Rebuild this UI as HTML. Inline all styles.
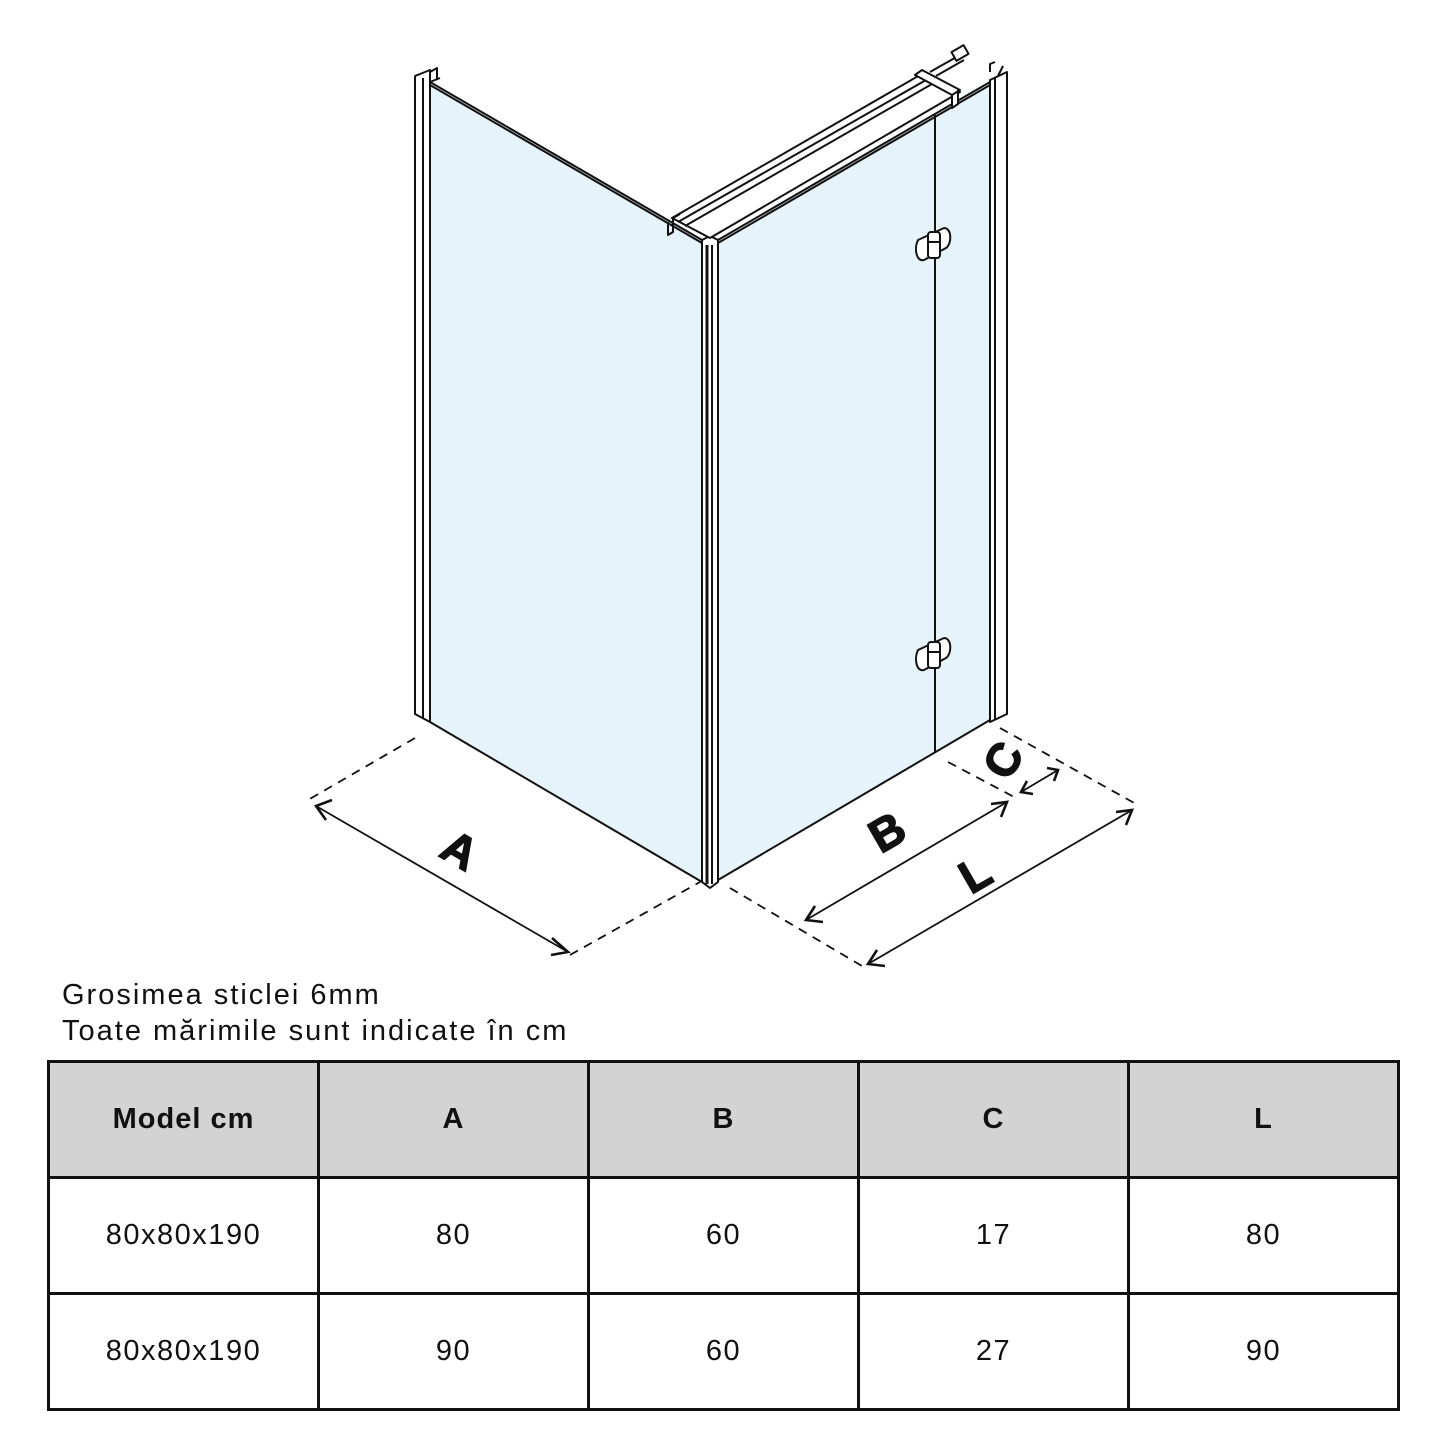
<!DOCTYPE html>
<html><head><meta charset="utf-8"><style>
html,body{margin:0;padding:0;background:#fff;width:1445px;height:1445px;overflow:hidden}
svg{position:absolute;left:0;top:0}
.t{position:absolute;left:62px;font-family:"Liberation Sans",sans-serif;font-size:29px;letter-spacing:2px;color:#111}
table{position:absolute;left:47px;top:1060px;border-collapse:collapse;font-family:"Liberation Sans",sans-serif;font-size:29px;color:#111;letter-spacing:1.5px}
td{border:3.5px solid #111;width:267px;height:113px;text-align:center;padding:0}
tr.h td{background:#d3d3d3;font-weight:bold;letter-spacing:1px}
</style></head><body>
<svg width="1445" height="1445" viewBox="0 0 1445 1445">
<g stroke="#111" stroke-width="2" fill="none" stroke-linejoin="round">
<polygon points="430,82 702,240 702,882 430,722" fill="#e6f3fb"/>
<polygon points="718,240 990,82 990,720 718,880" fill="#e6f3fb"/>
<line x1="935" y1="115" x2="935" y2="752"/>
<polygon points="415,76 430,70 430,722 415,714" fill="#fff"/>
<line x1="423" y1="78" x2="423" y2="718"/>
<path d="M430,72 L437,68 L437,80 M430,82 L440,78"/>
<polygon points="702,240 710,236 718,240 718,882 710,888 702,882" fill="#fff"/>
<line x1="707" y1="245" x2="707" y2="884" stroke-width="3"/>
<line x1="712" y1="245" x2="712" y2="884"/>
<polygon points="990,80 1007,72 1007,714 990,722" fill="#fff"/>
<line x1="995" y1="78" x2="995" y2="720"/>
<path d="M990,72 L990,64 L995,62 M998,76 L1003,66"/>
<line x1="430" y1="85" x2="702" y2="243"/>
<line x1="718" y1="243" x2="990" y2="85"/>
<polygon points="672,218 920,75 960,92 710,238" fill="#fff"/>
<line x1="678" y1="222" x2="926" y2="80"/>
<line x1="685" y1="226" x2="932" y2="84"/>
<path d="M915,75 L922,70 L960,90 L952,95 Z M952,95 L952,108 L958,104 L958,90" fill="#fff"/>
<path d="M930,72 L960,55 M936,76 L964,60"/>
<rect x="953" y="48" width="14" height="10" transform="rotate(-30 960 53)" fill="#fff"/>
<path d="M668,222 L668,235 L673,232 L673,218 L680,214"/>
<g fill="#fff">
<path d="M918,240 C914,248 916,262 924,260 L946,248 C952,244 952,228 944,228 Z"/>
<rect x="928" y="232" width="12" height="26" rx="3"/>
<line x1="928" y1="242" x2="940" y2="242"/>
<path d="M918,650 C914,658 916,672 924,670 L946,658 C952,654 952,638 944,638 Z"/>
<rect x="928" y="642" width="12" height="26" rx="3"/>
<line x1="928" y1="652" x2="940" y2="652"/>
</g>
</g>
<g stroke="#111" stroke-width="1.8" fill="none">
<g stroke-dasharray="9,7">
<line x1="415" y1="738" x2="308" y2="800"/>
<line x1="570" y1="955" x2="700" y2="882"/>
<line x1="730" y1="888" x2="862" y2="966"/>
<line x1="948" y1="762" x2="1016" y2="798"/>
<line x1="1000" y1="728" x2="1136" y2="804"/>
</g>
<line x1="316" y1="806" x2="568" y2="952"/>
<line x1="806" y1="920" x2="1007" y2="802"/>
<line x1="868" y1="964" x2="1132" y2="810"/>
<line x1="1021" y1="792" x2="1058" y2="770"/>
<g stroke-width="2.6">
<path d="M332,800 L316,806 L326,820 M552,938 L568,952 L551,955"/>
<path d="M815,906 L806,920 L823,922 M991,804 L1007,802 L1001,817"/>
<path d="M877,950 L868,964 L885,966 M1116,812 L1132,810 L1126,825"/>
<path d="M1027,781 L1021,792 L1033,794 M1047,768 L1058,770 L1054,781"/>
</g>
</g>
<g font-family="Liberation Sans,sans-serif" font-weight="bold" font-size="46" fill="#111" text-anchor="middle" stroke="#111" stroke-width="1.5">
<text x="460" y="866" transform="rotate(30 460 850)">A</text>
<text x="887" y="848" transform="rotate(-30 887 832)">B</text>
<text x="975" y="890" transform="rotate(-30 975 874)">L</text>
<text x="1003" y="776" transform="rotate(-60 1003 760)">C</text>
</g>
</svg>
<div class="t" style="top:979px">Grosimea sticlei 6mm</div>
<div class="t" style="top:1015px">Toate mărimile sunt indicate în cm</div>
<table>
<tr class="h"><td>Model cm</td><td>A</td><td>B</td><td>C</td><td>L</td></tr>
<tr><td>80x80x190</td><td>80</td><td>60</td><td>17</td><td>80</td></tr>
<tr><td>80x80x190</td><td>90</td><td>60</td><td>27</td><td>90</td></tr>
</table>
</body></html>
